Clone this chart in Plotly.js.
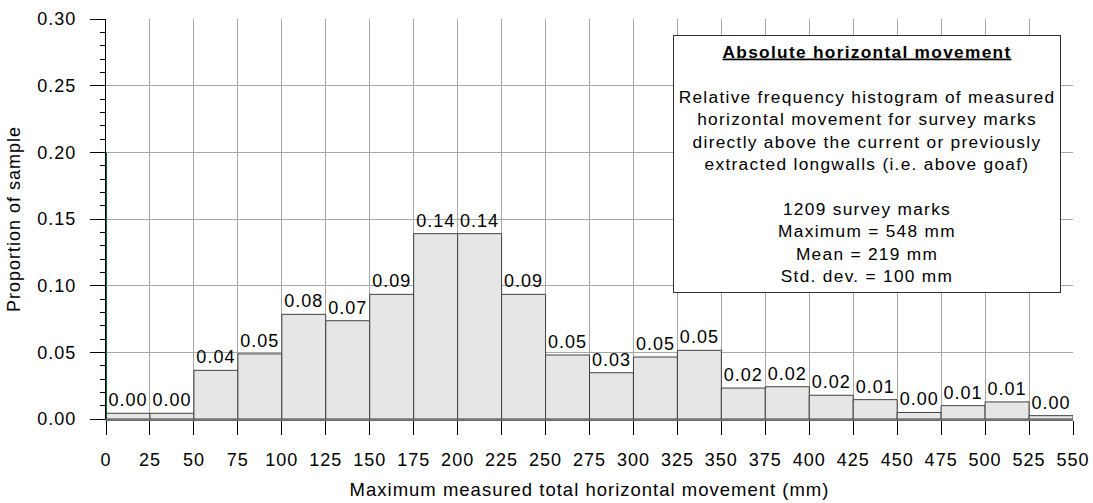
<!DOCTYPE html>
<html>
<head>
<meta charset="utf-8">
<script src="https://cdn.plot.ly/plotly-3.0.1.min.js"></script>
<style>
  html, body { margin: 0; padding: 0; background: #ffffff; }
  #chart { width: 1093px; height: 503px; }
  /* the chart lettering is set slightly wide */
  text { letter-spacing: 1px; }
  text.annotation-text { letter-spacing: 1.3px; }
</style>
</head>
<body>
<div id="chart"></div>
<script>
// Bin edges of the histogram (mm)
const binEdges = [0, 25, 50, 75, 100, 125, 150, 175, 200, 225, 250, 275,
                  300, 325, 350, 375, 400, 425, 450, 475, 500, 525, 550];

// Proportion of the 1209 survey marks falling in each bin
const proportions = [0.0043, 0.0043, 0.0365, 0.0488, 0.0785, 0.0737, 0.0935,
                     0.1390, 0.1390, 0.0935, 0.0480, 0.0347, 0.0465, 0.0515,
                     0.0232, 0.0242, 0.0178, 0.0145, 0.0049, 0.0100, 0.0128,
                     0.0025];

// Tick values for both axes
const xTickVals = binEdges;
const yTickVals = [0, 0.05, 0.10, 0.15, 0.20, 0.25, 0.30];

// Highlight segment on the vertical axis
const markerLineX = [0, 0];
const markerLineY = [0, 0.20];

// Summary text
const boxTitle = 'Absolute horizontal movement';
const boxDescription = [
  'Relative frequency histogram of measured',
  'horizontal movement for survey marks',
  'directly above the current or previously',
  'extracted longwalls (i.e. above goaf)'
];
const boxStats = [
  '1209 survey marks',
  'Maximum = 548 mm',
  'Mean = 219 mm',
  'Std. dev. = 100 mm'
];

const binCentres = proportions.map((_, i) => (binEdges[i] + binEdges[i + 1]) / 2);
const binWidths = proportions.map((_, i) => binEdges[i + 1] - binEdges[i]);

const FONT = 'Liberation Sans, Arial, Helvetica, sans-serif';

const bars = {
  type: 'bar',
  x: binCentres,
  y: proportions,
  width: binWidths,
  marker: { color: '#e6e6e6', line: { color: '#404040', width: 1 } },
  texttemplate: '%{y:.2f}',
  textposition: 'outside',
  constraintext: 'none',
  cliponaxis: false,
  textfont: { family: FONT, size: 18, color: '#000000' },
  hoverinfo: 'x+y',
  showlegend: false
};

const axisMark = {
  type: 'scatter',
  mode: 'lines',
  x: markerLineX,
  y: markerLineY,
  line: { color: '#006a3a', width: 2 },
  cliponaxis: false,
  hoverinfo: 'skip',
  showlegend: false
};

const boxText = '<b><u>' + boxTitle + '</u></b><br><br>' +
  boxDescription.join('<br>') + '<br><br>' + boxStats.join('<br>');

const layout = {
  width: 1093,
  height: 503,
  margin: { l: 106, r: 20, t: 19, b: 84, pad: 0 },
  paper_bgcolor: '#ffffff',
  plot_bgcolor: '#ffffff',
  font: { family: FONT, size: 18, color: '#000000' },
  bargap: 0,
  xaxis: {
    range: [0, 550],
    tickmode: 'array',
    tickvals: xTickVals,
    ticks: 'outside',
    ticklen: 14,
    tickwidth: 1,
    tickcolor: '#000000',
    ticklabelstandoff: 9,
    showgrid: true,
    gridcolor: '#a6a6a6',
    gridwidth: 1,
    zeroline: false,
    showline: true,
    linecolor: '#707070',
    linewidth: 2,
    tickfont: { family: FONT, size: 18 },
    title: { text: 'Maximum measured total horizontal movement (mm)',
             font: { family: FONT, size: 18.5 }, standoff: 14 },
    fixedrange: true
  },
  yaxis: {
    range: [0, 0.30],
    tickmode: 'array',
    tickvals: yTickVals,
    tickformat: '.2f',
    ticks: 'outside',
    ticklen: 15,
    tickwidth: 1,
    tickcolor: '#000000',
    ticklabelstandoff: 10,
    minor: { dtick: 0.01, ticks: 'outside', ticklen: 5, tickcolor: '#000000', showgrid: false },
    showgrid: true,
    gridcolor: '#a6a6a6',
    gridwidth: 1,
    zeroline: false,
    showline: true,
    linecolor: '#000000',
    linewidth: 1,
    layer: 'below traces',
    tickfont: { family: FONT, size: 18 },
    title: { text: 'Proportion of sample', font: { family: FONT, size: 18 }, standoff: 12 },
    fixedrange: true
  },
  annotations: [{
    xref: 'paper', yref: 'paper',
    x: 0.7868, y: 0.6375,
    xanchor: 'center', yanchor: 'middle',
    text: boxText,
    showarrow: false,
    align: 'center',
    width: 384,
    height: 254,
    bgcolor: '#ffffff',
    bordercolor: '#333333',
    borderwidth: 1,
    borderpad: 1,
    font: { family: FONT, size: 17.3, color: '#000000' }
  }]
};

Plotly.newPlot('chart', [bars, axisMark], layout, { displayModeBar: false, staticPlot: true });
</script>
</body>
</html>
